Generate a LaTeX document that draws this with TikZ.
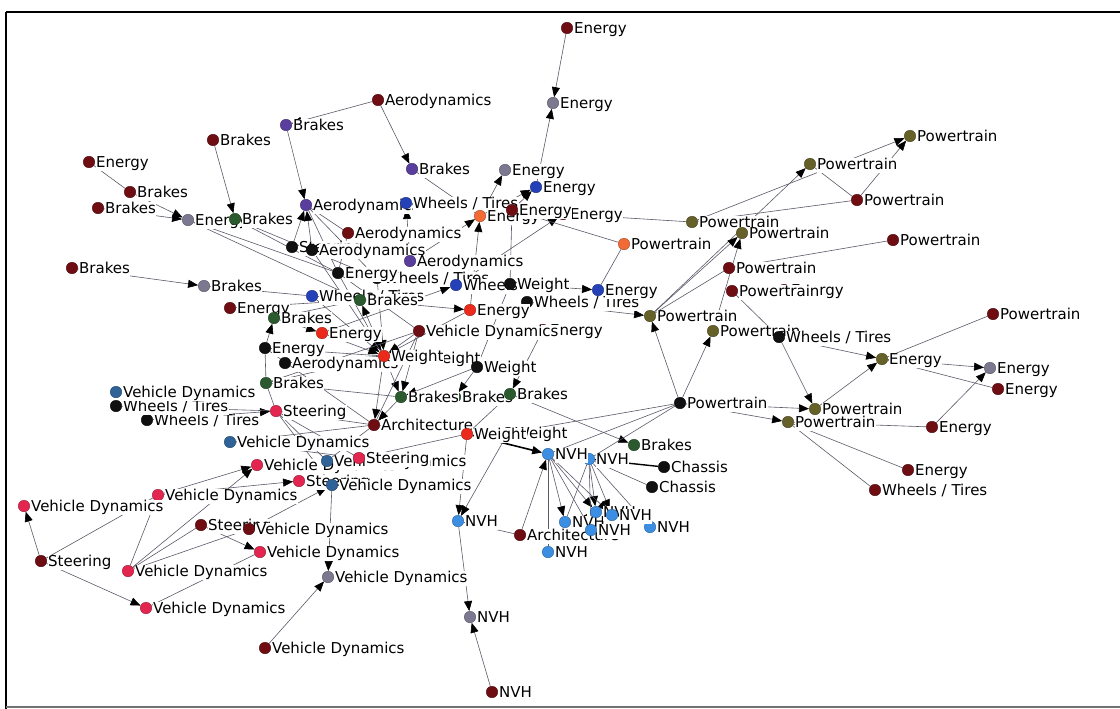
\documentclass[tikz,border=0pt]{standalone}
\usepackage{fontspec}
\setmainfont{DejaVu Sans}
\usetikzlibrary{arrows.meta}
\pgfdeclarelayer{edges}
\pgfdeclarelayer{paper}
\pgfsetlayers{paper,edges,main}
\definecolor{cMR}{HTML}{6E0E12}
\definecolor{cGY}{HTML}{7C7890}
\definecolor{cPU}{HTML}{5A3E9E}
\definecolor{cGN}{HTML}{2B5A2E}
\definecolor{cBL}{HTML}{2541B8}
\definecolor{cOR}{HTML}{F26A36}
\definecolor{cRD}{HTML}{EC2A1C}
\definecolor{cBK}{HTML}{101010}
\definecolor{cOL}{HTML}{666029}
\definecolor{cLB}{HTML}{3C8EE2}
\definecolor{cSB}{HTML}{2F6296}
\definecolor{cCR}{HTML}{E3264F}
\definecolor{cED}{HTML}{5C5868}
\tikzset{
  dot/.style={circle, fill=#1, draw=#1!70!black, line width=0.4pt,
    minimum size=11.5pt, inner sep=0pt},
  lbl/.style={anchor=base west, xshift=0.6pt, yshift=-5.3pt, fill=white,
    inner sep=0.4pt, text height=10.6pt, text depth=3.2pt,
    font=\fontsize{15}{17}\selectfont},
  link/.style={draw=cED, line width=0.6pt},
  arc/.style={link, -{Triangle[length=10pt,width=8pt,color=black]}},
  heavy/.style={draw=black, line width=1.6pt,
    -{Triangle[length=10pt,width=8pt,color=black]}},
  heavyline/.style={draw=black, line width=1.4pt},
  frame/.style={draw=black, line width=1.6pt}
}
% vertex: name, x, y, colour, label
\newcommand\vx[5]{\node[dot=#4, label={[lbl]0:#5}] (#1) at (#2,#3) {};}
\begin{document}
\begin{tikzpicture}[x=1pt, y=-1pt]
\useasboundingbox (0,0) rectangle (1120,709);
\begin{pgfonlayer}{paper}
\fill[white] (0,0) rectangle (1120,709);
\end{pgfonlayer}
\draw[frame] (6,12) -- (1122,12);
\draw[frame] (6,12) -- (6,711);
\draw[frame, draw=black!55, line width=1.2pt] (6,707) -- (1122,707);

% ---- vertices, back to front ----
\vx{nE1}{567}{28}{cMR}{Energy}
\vx{nE2}{553}{103}{cGY}{Energy}
\vx{nA1}{378}{100}{cMR}{Aerodynamics}
\vx{nB1}{286}{125}{cPU}{Brakes}
\vx{nB2}{213}{140}{cMR}{Brakes}
\vx{nB3}{412}{169}{cPU}{Brakes}
\vx{nE5}{89}{162}{cMR}{Energy}
\vx{nB4}{130}{192}{cMR}{Brakes}
\vx{nB5}{98}{208}{cMR}{Brakes}
\vx{nE6}{188}{220}{cGY}{Energy}
\vx{nB6}{235}{219}{cGN}{Brakes}
\vx{nE3}{505}{170}{cGY}{Energy}
\vx{nE4}{536}{187}{cBL}{Energy}
\vx{nA2}{306}{205}{cPU}{Aerodynamics}
\vx{nW1}{406}{203}{cBL}{Wheels / Tires}
\vx{nE7}{480}{216}{cOR}{Energy}
\vx{nE9}{563}{214}{cMR}{Energy}
\vx{nE8}{512}{210}{cMR}{Energy}
\vx{nA3}{348}{233}{cMR}{Aerodynamics}
\vx{nS1}{292}{247}{cBK}{Steering}
\vx{nA4}{312}{250}{cBK}{Aerodynamics}
\vx{nA5}{410}{261}{cPU}{Aerodynamics}
\vx{nW2}{377}{278}{cBK}{Wheels / Tires}
\vx{nE10}{338}{273}{cBK}{Energy}
\vx{nB7}{72}{268}{cMR}{Brakes}
\vx{nB8}{204}{286}{cGY}{Brakes}
\vx{nE15}{230}{308}{cMR}{Energy}
\vx{nW3}{312}{296}{cBL}{Wheels / Tires}
\vx{nB9}{360}{300}{cGN}{Brakes}
\vx{nW4}{456}{285}{cBL}{Wheels / Tires}
\vx{nW5}{527}{302}{cBK}{Wheels / Tires}
\vx{nWt1}{510}{284}{cBK}{Weight}
\vx{nE11}{598}{290}{cBL}{Energy}
\vx{nE12}{470}{310}{cRD}{Energy}
\vx{nE13}{543}{330}{cMR}{Energy}
\vx{nVD1}{419}{331}{cMR}{Vehicle Dynamics}
\vx{nB10}{274}{318}{cGN}{Brakes}
\vx{nE14}{322}{333}{cRD}{Energy}
\vx{nA6}{285}{363}{cBK}{Aerodynamics}
\vx{nE16}{265}{348}{cBK}{Energy}
\vx{nWt3}{421}{358}{cBK}{Weight}
\vx{nWt2}{384}{356}{cRD}{Weight}
\vx{nWt4}{477}{367}{cBK}{Weight}
\vx{nB11}{266}{383}{cGN}{Brakes}
\vx{nB13}{455}{397}{cGN}{Brakes}
\vx{nB12}{401}{397}{cGN}{Brakes}
\vx{nB14}{510}{394}{cGN}{Brakes}
\vx{nW7}{147}{420}{cBK}{Wheels / Tires}
\vx{nW6}{116}{406}{cBK}{Wheels / Tires}
\vx{nVD2}{116}{392}{cSB}{Vehicle Dynamics}
\vx{nSt2}{276}{411}{cCR}{Steering}
\vx{nAr1}{374}{425}{cMR}{Architecture}
\vx{nWt6}{508}{433}{cBK}{Weight}
\vx{nWt5}{467}{434}{cRD}{Weight}
\vx{nVD3}{230}{442}{cSB}{Vehicle Dynamics}
\vx{nVD5}{257}{465}{cCR}{Vehicle Dynamics}
\vx{nVD4}{327}{461}{cSB}{Vehicle Dynamics}
\vx{nSt3}{359}{458}{cCR}{Steering}
\vx{nSt4}{299}{481}{cCR}{Steering}
\vx{nVD6}{332}{485}{cSB}{Vehicle Dynamics}
\vx{nVD7}{158}{495}{cCR}{Vehicle Dynamics}
\vx{nVD8}{24}{506}{cCR}{Vehicle Dynamics}
\vx{nSt5}{201}{525}{cMR}{Steering}
\vx{nVD9}{249}{529}{cMR}{Vehicle Dynamics}
\vx{nVD10}{260}{552}{cCR}{Vehicle Dynamics}
\vx{nSt6}{41}{561}{cMR}{Steering}
\vx{nVD11}{128}{571}{cCR}{Vehicle Dynamics}
\vx{nVD12}{328}{577}{cGY}{Vehicle Dynamics}
\vx{nVD13}{146}{608}{cCR}{Vehicle Dynamics}
\vx{nVD14}{265}{648}{cMR}{Vehicle Dynamics}
\vx{nNV2}{589}{459}{cLB}{NVH}
\vx{nNV1}{548}{454}{cLB}{NVH}
\vx{nB15}{634}{445}{cGN}{Brakes}
\vx{nC1}{664}{467}{cBK}{Chassis}
\vx{nC2}{652}{487}{cBK}{Chassis}
\vx{nP1}{680}{403}{cBK}{Powertrain}
\vx{nNV3}{458}{521}{cLB}{NVH}
\vx{nNV9}{548}{552}{cLB}{NVH}
\vx{nAr2}{520}{535}{cMR}{Architecture}
\vx{nNV8}{650}{527}{cLB}{NVH}
\vx{nNV4}{565}{522}{cLB}{NVH}
\vx{nNV5}{596}{512}{cLB}{NVH}
\vx{nNV7}{591}{530}{cLB}{NVH}
\vx{nNV6}{612}{515}{cLB}{NVH}
\vx{nNV10}{470}{617}{cGY}{NVH}
\vx{nNV11}{492}{692}{cMR}{NVH}
\vx{nP2}{624}{244}{cOR}{Powertrain}
\vx{nP3}{692}{222}{cOL}{Powertrain}
\vx{nP4}{742}{233}{cOL}{Powertrain}
\vx{nP5}{810}{164}{cOL}{Powertrain}
\vx{nP6}{910}{136}{cOL}{Powertrain}
\vx{nP7}{857}{200}{cMR}{Powertrain}
\vx{nP8}{893}{240}{cMR}{Powertrain}
\vx{nP9}{729}{268}{cMR}{Powertrain}
\vx{nE17}{784}{290}{cMR}{Energy}
\vx{nP10}{732}{291}{cMR}{Powertrain}
\vx{nP11}{650}{316}{cOL}{Powertrain}
\vx{nP12}{713}{331}{cOL}{Powertrain}
\vx{nW8}{779}{337}{cBK}{Wheels / Tires}
\vx{nE18}{882}{359}{cOL}{Energy}
\vx{nP13}{993}{314}{cMR}{Powertrain}
\vx{nE19}{990}{368}{cGY}{Energy}
\vx{nE20}{998}{389}{cMR}{Energy}
\vx{nP14}{815}{409}{cOL}{Powertrain}
\vx{nP15}{788}{422}{cOL}{Powertrain}
\vx{nE21}{932}{427}{cMR}{Energy}
\vx{nE22}{908}{470}{cMR}{Energy}
\vx{nW9}{875}{490}{cMR}{Wheels / Tires}

% ---- links, behind the vertices ----
\begin{pgfonlayer}{edges}
\foreach \a/\b in {nE1/nE2, nE4/nE2, nA1/nB3, nA1/nB1, nB1/nA2, nB2/nB6,
  nB5/nE6, nB4/nE6, nE7/nE3, nE8/nE4, nE7/nE4, nA5/nE7, nE12/nE7,
  nS1/nA2, nA4/nA2, nA5/nW1, nB7/nB8, nE16/nB10, nB10/nE14, nWt2/nB9,
  nE14/nW4, nB9/nE12, nVD1/nWt2, nE12/nWt2, nE10/nWt2, nW3/nWt2,
  nE14/nWt2, nW2/nWt2, nE13/nB14, nWt4/nB12, nWt4/nB13, nWt2/nB12,
  nB14/nB15, nWt5/nNV3, nWt6/nNV3, nAr2/nNV1, nNV3/nNV10,
  nNV11/nNV10, nNV1/nNV4, nNV1/nNV5, nNV1/nNV7, nNV2/nNV6, nNV2/nNV5,
  nNV1/nNV6, nP1/nP11, nP1/nP12, nP1/nP15, nP1/nP14, nW8/nP14,
  nW8/nE18, nP14/nE18, nE18/nE19, nE21/nE19, nW5/nP11, nP11/nP5,
  nP7/nP6, nP3/nP6, nP11/nP4, nP12/nP4, nWt1/nE11, nW7/nSt2,
  nVD7/nVD5, nVD11/nVD5, nVD7/nSt4, nVD9/nVD6, nVD6/nVD12,
  nVD14/nVD12, nSt5/nVD10, nSt6/nVD8, nSt6/nVD13, nW4/nE9,
  nB12/nAr1, nVD1/nB12, nWt2/nAr1}
  \draw[arc] (\a) -- (\b);
\foreach \a/\b in {nE5/nB4, nE6/nE10, nB6/nE10, nB6/nW2, nE6/nB9,
  nB3/nE7, nE9/nP3, nE8/nP2, nWt1/nE8, nA2/nA3, nE10/nA2, nA2/nW2,
  nB8/nW3, nE15/nB9, nE16/nB11, nE16/nWt2, nB11/nWt2, nB11/nB12,
  nB11/nVD1, nA6/nWt2, nWt3/nWt4, nB14/nWt5, nNV3/nAr2, nNV2/nC2,
  nP1/nNV1, nP1/nNV2, nP1/nWt6, nNV2/nNV4, nNV2/nNV7, nNV2/nNV8,
  nNV1/nNV9, nP10/nW8, nP13/nE18, nE18/nE20, nP15/nE21, nP15/nE22,
  nP15/nW9, nP5/nP7, nP3/nP7, nP8/nP9, nP11/nP9, nE11/nP2, nW6/nSt2,
  nSt2/nVD4, nSt2/nSt3, nSt2/nAr1, nSt2/nVD6, nVD3/nAr1, nAr1/nVD1,
  nAr1/nE16, nVD11/nSt5, nVD11/nVD9, nSt6/nVD7, nVD13/nVD10,
  nVD11/nVD7, nWt4/nWt1, nW3/nB9, nB10/nB9, nE10/nVD1, nA4/nWt2,
  nA3/nE10, nB11/nSt2, nVD4/nAr1, nSt3/nWt5, nAr1/nWt5, nVD3/nSt3}
  \draw[link] (\a) -- (\b);
\draw[heavy] (nWt5) -- (nNV1);
\draw[heavyline] (nNV2) -- (nC1);
\end{pgfonlayer}
\end{tikzpicture}
\end{document}
